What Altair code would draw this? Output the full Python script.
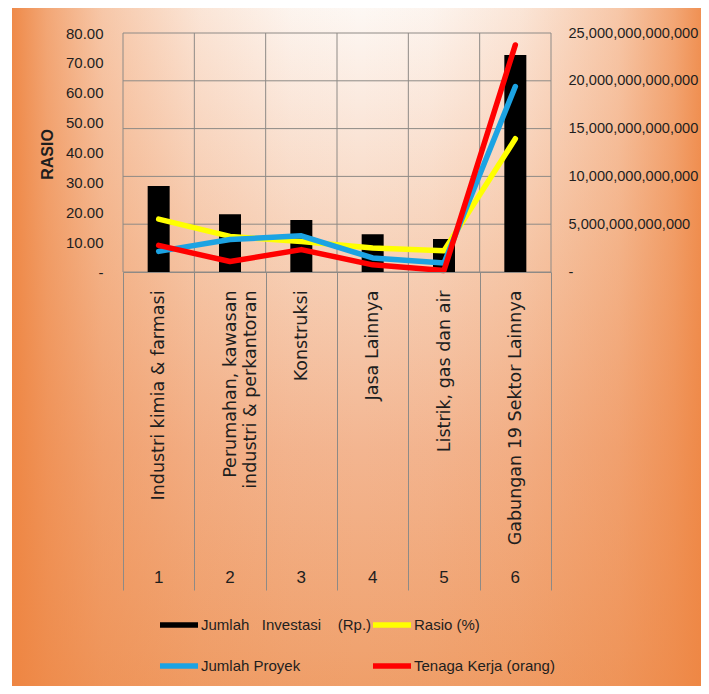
import altair as alt
import pandas as pd

# ---------------- data ----------------
categories = [
    "Industri kimia & farmasi",
    "Perumahan, kawasan|industri & perkantoran",
    "Konstruksi",
    "Jasa Lainnya",
    "Listrik, gas dan air",
    "Gabungan 19 Sektor Lainnya",
]
numbers = ["1", "2", "3", "4", "5", "6"]
investasi = [9.0e12, 6.05e12, 5.45e12, 3.95e12, 3.45e12, 22.7e12]
rasio = [17.7, 11.9, 10.2, 8.0, 7.1, 44.6]
proyek = [6.9, 10.9, 12.1, 4.7, 3.0, 62.1]
tenaga = [8.9, 3.5, 7.5, 2.4, 0.5, 76.0]
series = [
    "Jumlah\u00a0\u00a0\u00a0Investasi\u00a0\u00a0\u00a0\u00a0(Rp.)",
    "Rasio (%)",
    "Jumlah Proyek",
    "Tenaga Kerja (orang)",
]
colors = ["#000000", "#FFFF00", "#1CA3E3", "#FF0000"]
left_ticks = [0, 10, 20, 30, 40, 50, 60, 70, 80]
right_ticks = [0, 5e12, 10e12, 15e12, 20e12, 25e12]

# ---------------- tables ----------------
bar_df = pd.DataFrame({"kategori": categories, "nomor": numbers,
                       "nilai": investasi, "seri": series[0]})


def line_df(vals, name):
    return pd.DataFrame({"kategori": categories, "nilai": vals, "seri": name})


grid_h_df = pd.DataFrame({"t": right_ticks})
grid_v_df = pd.DataFrame({"kategori": categories})
grid_v_last_df = pd.DataFrame({"kategori": categories[-1:]})
bg_df = pd.DataFrame({"bg": [0]})

# ---------------- style ----------------
W, H = 428, 239
FONT = "Liberation Sans, Arial, sans-serif"
GRID = "#8e8a86"
TXT = "#1e1e1e"

x_scale = alt.Scale(type="band", paddingInner=0, paddingOuter=0)
x_axis = alt.Axis(
    orient="bottom", title=None, tickBand="extent", ticks=True, tickSize=318,
    tickColor=GRID, tickWidth=1, grid=False, domain=True, domainColor=GRID,
    labelAngle=270, labelAlign="right", labelBaseline="middle",
    labelPadding=-300, labelFont="DejaVu Sans", labelFontSize=17.5,
    labelColor=TXT, labelExpr="split(datum.label, '|')", labelLineHeight=20,
    labelLimit=400, zindex=1,
)
left_axis = alt.Axis(
    orient="left", values=left_ticks,
    labelExpr="datum.value == 0 ? '-' : format(datum.value, '.2f')",
    ticks=False, domain=False, grid=False, labelPadding=20,
    labelFont=FONT, labelFontSize=15, labelColor=TXT,
    title="RASIO", titleAngle=270, titleX=-76, titleY=121,
    titleAlign="center", titleBaseline="middle", titleFont=FONT,
    titleFontSize=16, titleFontWeight="bold", titleColor=TXT, zindex=1,
)
right_axis = alt.Axis(
    orient="right", values=right_ticks,
    labelExpr="datum.value == 0 ? '-' : format(datum.value, ',.0f')",
    ticks=False, domain=False, grid=False, labelPadding=17,
    labelFont=FONT, labelFontSize=14.6, labelColor=TXT, title=None, zindex=1,
)
y_left_scale = alt.Scale(domain=[0, 80], nice=False, zero=True)
y_right_scale = alt.Scale(domain=[0, 25e12], nice=False, zero=True)
color_scale = alt.Scale(domain=series, range=colors)

THIN = "M-1,-0.14H1V0.14H-1Z"
THICK = "M-1,-0.27H1V0.27H-1Z"


def build(with_encode):
    legend_kwargs = dict(
        title=None, orient="none", legendX=37, legendY=573, columns=2,
        direction="horizontal", columnPadding=1, rowPadding=14,
        symbolSize=1444, symbolType=THIN, symbolStrokeWidth=0,
        labelFont=FONT, labelFontSize=15, labelColor=TXT, labelOffset=3,
        padding=0, labelLimit=400, symbolOpacity=1,
    )
    if with_encode:
        legend_kwargs["encode"] = {
            "symbols": {"update": {
                "shape": {"signal": "indexOf(datum.value, 'Investasi') >= 0 ? '%s' : '%s'" % (THICK, THIN)},
                "fill": {"scale": "color", "field": "value"},
                "stroke": {"value": "transparent"},
            }}
        }
    legend = alt.Legend(**legend_kwargs)

    def xenc(**kw):
        return alt.X("kategori:N", sort=categories, scale=x_scale, axis=x_axis, **kw)

    # background: vertical base gradient + horizontal edge darkening
    bg_v = alt.Chart(bg_df).mark_rect(fill=alt.LinearGradient(
        gradient="linear", x1=0, y1=0, x2=0, y2=1,
        stops=[
            alt.GradientStop(offset=0, color="#FDF8F4"),
            alt.GradientStop(offset=0.135, color="#FBEADF"),
            alt.GradientStop(offset=0.354, color="#F7D3BB"),
            alt.GradientStop(offset=0.645, color="#F3B590"),
            alt.GradientStop(offset=0.936, color="#F0A370"),
            alt.GradientStop(offset=1, color="#EF9E68"),
        ])).encode(x=alt.value(-111), x2=alt.value(586),
                   y=alt.value(-26), y2=alt.value(661))
    bg_h = alt.Chart(bg_df).mark_rect(fill=alt.LinearGradient(
        gradient="linear", x1=0, y1=0, x2=1, y2=0,
        stops=[
            alt.GradientStop(offset=0, color="rgba(238,132,64,0.95)"),
            alt.GradientStop(offset=0.05, color="rgba(238,132,64,0.7)"),
            alt.GradientStop(offset=0.13, color="rgba(238,132,64,0.42)"),
            alt.GradientStop(offset=0.27, color="rgba(238,132,64,0.16)"),
            alt.GradientStop(offset=0.4, color="rgba(238,132,64,0.03)"),
            alt.GradientStop(offset=0.5, color="rgba(238,132,64,0)"),
            alt.GradientStop(offset=0.6, color="rgba(238,132,64,0.03)"),
            alt.GradientStop(offset=0.73, color="rgba(238,132,64,0.16)"),
            alt.GradientStop(offset=0.87, color="rgba(238,132,64,0.42)"),
            alt.GradientStop(offset=0.95, color="rgba(238,132,64,0.7)"),
            alt.GradientStop(offset=1, color="rgba(238,132,64,0.95)"),
        ])).encode(x=alt.value(-111), x2=alt.value(586),
                   y=alt.value(-26), y2=alt.value(661))

    # vertical gridlines at category boundaries
    vgrid = alt.Chart(grid_v_df).mark_rule(color=GRID, strokeWidth=1).encode(
        x=xenc(bandPosition=0))
    vgrid_last = alt.Chart(grid_v_last_df).mark_rule(color=GRID, strokeWidth=1).encode(
        x=xenc(bandPosition=1))

    # horizontal gridlines + bars (right axis)
    hgrid = alt.Chart(grid_h_df).mark_rule(color=GRID, strokeWidth=1).encode(
        y=alt.Y("t:Q", scale=y_right_scale, axis=right_axis))
    bars = alt.Chart(bar_df).mark_bar(size=22).encode(
        x=xenc(),
        y=alt.Y("nilai:Q", scale=y_right_scale, axis=right_axis),
        color=alt.Color("seri:N", scale=color_scale, legend=legend),
    )
    bar_part = alt.layer(hgrid, bars)

    def line_layer(vals, name):
        return alt.Chart(line_df(vals, name)).mark_line(
            strokeWidth=5.5, interpolate="linear",
            strokeCap="round", strokeJoin="round").encode(
            x=xenc(),
            y=alt.Y("nilai:Q", scale=y_left_scale, axis=left_axis),
            color=alt.Color("seri:N", scale=color_scale, legend=legend),
        )

    line_part = alt.layer(line_layer(rasio, series[1]),
                          line_layer(proyek, series[2]),
                          line_layer(tenaga, series[3]))

    nums = alt.Chart(bar_df).mark_text(font=FONT, fontSize=17, color=TXT,
                                       baseline="middle", align="center").encode(
        x=xenc(), y=alt.value(545), text="nomor:N")

    chart = alt.layer(bg_v, bg_h, vgrid, vgrid_last, bar_part, line_part, nums
                      ).resolve_scale(y="independent").properties(
        width=W, height=H,
        autosize=alt.AutoSizeParams(type="none"),
        padding={"left": 115, "top": 25, "right": 150, "bottom": 414},
        background="white",
    ).configure_view(strokeWidth=0)
    return chart


try:
    chart = build(True)
    chart.to_dict()
except Exception:
    chart = build(False)

chart.save("out.html", embed_options={"renderer": "svg", "actions": False})
